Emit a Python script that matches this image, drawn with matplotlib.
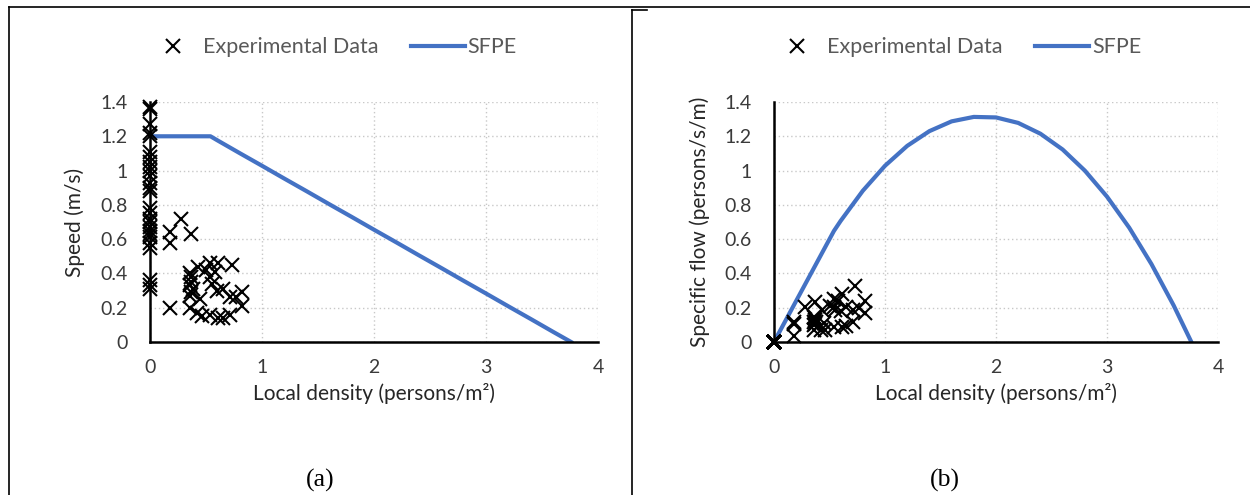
import matplotlib.pyplot as plt
from matplotlib.lines import Line2D
from matplotlib.ticker import FuncFormatter

plt.rcParams['font.family'] = ['Lato', 'DejaVu Sans']

# Experimental data (density 0 points)
zero_speed = [1.37, 1.36, 1.27, 1.22, 1.20, 1.11, 1.08, 1.05, 1.02, 1.00, 0.97, 0.93,
              0.90, 0.88, 0.78, 0.75, 0.72, 0.70, 0.67, 0.65, 0.63, 0.61, 0.58, 0.55,
              0.36, 0.33, 0.31]
zero_density = [0.0] * len(zero_speed)
zero_flow = [0.0] * len(zero_speed)

# Experimental data (density > 0)
exp_density = [0.18, 0.18, 0.28, 0.37, 0.18, 0.36, 0.37, 0.37, 0.36, 0.38, 0.37, 0.36,
               0.43, 0.54, 0.61, 0.73, 0.54, 0.55, 0.45, 0.65, 0.71, 0.77, 0.82, 0.82,
               0.36, 0.42, 0.46, 0.54, 0.61, 0.65, 0.71, 0.50, 0.58, 0.60]
exp_speed = [0.64, 0.58, 0.72, 0.63, 0.20, 0.40, 0.38, 0.35, 0.33, 0.31, 0.29, 0.27,
             0.44, 0.46, 0.46, 0.45, 0.38, 0.34, 0.25, 0.31, 0.26, 0.26, 0.29, 0.21,
             0.20, 0.17, 0.15, 0.16, 0.14, 0.14, 0.16, 0.42, 0.41, 0.30]
exp_flow = [0.115, 0.104, 0.202, 0.233, 0.036, 0.144, 0.141, 0.130, 0.119, 0.118, 0.107, 0.097,
            0.189, 0.248, 0.281, 0.329, 0.205, 0.187, 0.113, 0.202, 0.185, 0.200, 0.238, 0.172,
            0.072, 0.071, 0.069, 0.086, 0.085, 0.091, 0.114, 0.210, 0.238, 0.180]

# SFPE model curve
sfpe_density = [0.0, 0.54, 0.6, 0.8, 1.0, 1.2, 1.4, 1.6, 1.8, 2.0, 2.2, 2.4, 2.6, 2.8,
                3.0, 3.2, 3.4, 3.6, 3.76]
sfpe_speed = [1.20, 1.20, 1.177, 1.102, 1.028, 0.953, 0.879, 0.804, 0.730, 0.655, 0.581,
              0.506, 0.432, 0.357, 0.283, 0.208, 0.134, 0.059, 0.0]
sfpe_flow = [0.0, 0.648, 0.706, 0.882, 1.028, 1.144, 1.230, 1.287, 1.313, 1.310, 1.278,
             1.215, 1.123, 1.000, 0.848, 0.667, 0.455, 0.214, 0.0]

W, H = 1250, 495
fig = plt.figure(figsize=(12.5, 4.95), dpi=100)

ax1 = fig.add_axes([150 / W, (H - 342) / H, 448 / W, 240 / H])
ax2 = fig.add_axes([774 / W, (H - 342) / H, 444 / W, 240 / H])

panels = [
    (ax1, zero_speed, exp_speed, sfpe_speed, 'Speed (m/s)', 85, 0.405),
    (ax2, zero_flow, exp_flow, sfpe_flow, 'Specific flow (persons/s/m)', 710, 0.409),
]

for ax, zero_y, exp_y, sfpe_y, ylabel, ylab_px, leg_x in panels:
    ax.plot(zero_density + exp_density, zero_y + exp_y, linestyle='none', marker='x',
            color='black', markersize=10.5, markeredgewidth=1.5, label='Experimental Data',
            zorder=3, clip_on=False)
    ax.plot(sfpe_density, sfpe_y, color='#4472C4', linewidth=3, label='SFPE', zorder=2)

    ax.set_xlim(0, 4)
    ax.set_ylim(0, 1.4)
    ax.set_xticks([0, 1, 2, 3, 4])
    ax.set_yticks([0, 0.2, 0.4, 0.6, 0.8, 1.0, 1.2, 1.4])
    ax.yaxis.set_major_formatter(FuncFormatter(lambda v, p: '{:g}'.format(round(v, 1))))
    ax.grid(True, color='#C8C8C8', linestyle=(0, (1, 2)), linewidth=1)
    ax.set_axisbelow(True)
    for s in ['top', 'right']:
        ax.spines[s].set_visible(False)
    for s in ['left', 'bottom']:
        ax.spines[s].set_linewidth(1.8)
        ax.spines[s].set_color('black')
    ax.tick_params(length=0, labelsize=14, colors='#3a3a3a')
    ax.tick_params(axis='y', pad=16)
    ax.tick_params(axis='x', pad=12)

    ax.set_xlabel('Local density (persons/m²)', fontsize=15, color='#262626', labelpad=5)
    ax.set_ylabel(ylabel, fontsize=15, color='#262626')
    ax.yaxis.set_label_coords((ylab_px - ax.get_position().x0 * W) / (ax.get_position().width * W), 0.5)

    ax.legend(loc='center', bbox_to_anchor=(leg_x, 1.229), ncol=2, frameon=False,
              fontsize=15.5, labelcolor='#595959', handlelength=2.5, columnspacing=1.5,
              handletextpad=0.15)

fig.text(320 / W, 1 - 480 / H, '(a)', family='Liberation Serif', fontsize=18.5, ha='center', va='center')
fig.text(945 / W, 1 - 480 / H, '(b)', family='Liberation Serif', fontsize=18.5, ha='center', va='center')

# table borders
def px_line(x0, y0, x1, y1):
    fig.add_artist(Line2D([x0 / W, x1 / W], [1 - y0 / H, 1 - y1 / H], color='black',
                          linewidth=1.2, transform=fig.transFigure))

px_line(9, 7, W, 7)
px_line(9, 7, 9, H)
px_line(632, 10, 632, H)
px_line(632, 10, 647, 10)

fig.savefig('out.png', dpi=100)
